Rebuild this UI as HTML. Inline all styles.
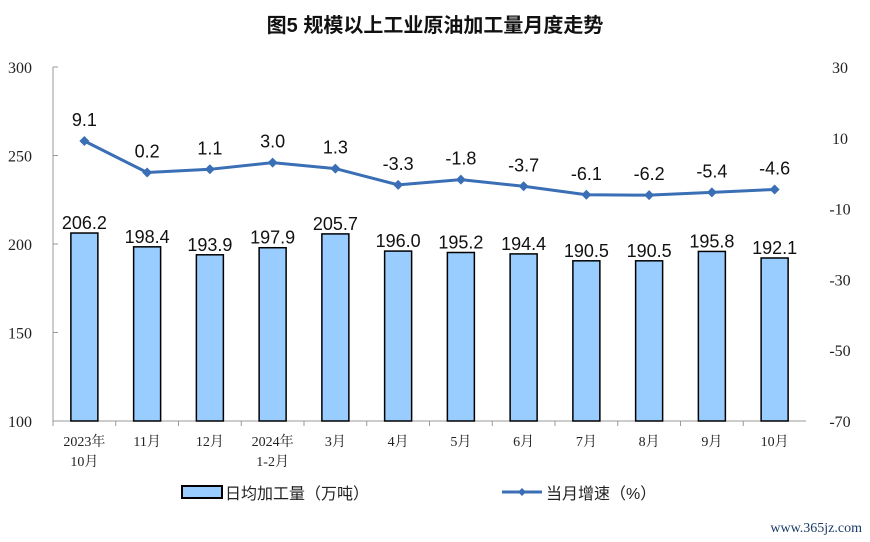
<!DOCTYPE html>
<html><head><meta charset="utf-8"><style>
body{margin:0;background:#fff}
svg{display:block;font-family:"Liberation Sans","Noto Sans CJK SC",sans-serif}
</style></head><body>
<svg width="870" height="542" viewBox="0 0 870 542">
<text x="435" y="32" text-anchor="middle" font-size="20" font-weight="bold" fill="#111">图5  规模以上工业原油加工量月度走势</text>
<g id="axes"></g><g id="bars"></g><g id="line"></g>
<g>
<rect x="182" y="486" width="40" height="12" fill="#99ccff" stroke="#000" stroke-width="2"/>
<text x="225" y="499" font-size="16" fill="#222">日均加工量（万吨）</text>
<line x1="502" y1="492" x2="542" y2="492" stroke="#3a6fb5" stroke-width="3"/>
<path d="M522 488 L526 492 L522 496 L518 492Z" fill="#3a6fb5"/>
<text x="546" y="499" font-size="16" fill="#222">当月增速（%）</text>
</g>
<text x="862" y="532" text-anchor="end" font-size="14" font-family="Liberation Serif,serif" fill="#1a3a6a">www.365jz.com</text>
</svg>
<script>
const categories=["2023年|10月","11月","12月","2024年|1-2月","3月","4月","5月","6月","7月","8月","9月","10月"];
const barValues=[206.2,198.4,193.9,197.9,205.7,196.0,195.2,194.4,190.5,190.5,195.8,192.1];
const growthValues=[9.1,0.2,1.1,3.0,1.3,-3.3,-1.8,-3.7,-6.1,-6.2,-5.4,-4.6];
const leftTicks=[100,150,200,250,300];
const rightTicks=[-70,-50,-30,-10,10,30];
const NS="http://www.w3.org/2000/svg";
const X0=53,X1=806,Y0=421,Y1=67;
const yL=v=>Y0-(v-100)/200*(Y0-Y1);
const yR=v=>Y0-(v+70)/100*(Y0-Y1);
const bw=(X1-X0)/categories.length;
const xc=i=>X0+bw*(i+0.5);
function mk(t,a,p,txt){const e=document.createElementNS(NS,t);for(const k in a)e.setAttribute(k,a[k]);if(txt!==undefined)e.textContent=txt;p.appendChild(e);return e;}
const ax=document.getElementById('axes'),bg=document.getElementById('bars'),lg=document.getElementById('line');
let e=mk('line',{x1:X0,y1:Y1,x2:X0,y2:Y0,stroke:'#999'},ax);

e=mk('line',{x1:X0,y1:Y0,x2:X1,y2:Y0,stroke:'#999'},ax);

leftTicks.forEach(v=>{mk('line',{x1:X0,y1:yL(v),x2:X0+5,y2:yL(v),stroke:'#999'},ax);
e=mk('text',{x:20,y:yL(v)+6,'font-size':16,'text-anchor':'middle',fill:'#222','font-family':'Liberation Serif,serif'},ax,v);
});
rightTicks.forEach(v=>{
e=mk('text',{x:840,y:yR(v)+6,'font-size':16,'text-anchor':'middle',fill:'#222','font-family':'Liberation Serif,serif'},ax,v);
});
categories.forEach((c,i)=>{mk('line',{x1:X0+bw*i,y1:Y0,x2:X0+bw*i,y2:Y0+5,stroke:'#999'},ax);
c.split('|').forEach((s,j)=>{e=mk('text',{x:xc(i),y:446+j*20,'font-size':14,'text-anchor':'middle',fill:'#222','font-family':'"Liberation Serif","Noto Serif CJK SC",serif'},ax,s);
});});
barValues.forEach((v,i)=>{e=mk('rect',{x:xc(i)-13.5,y:yL(v),width:27,height:Y0-yL(v),fill:'#99ccff',stroke:'#000','stroke-width':1.5},bg);

e=mk('text',{x:xc(i),y:yL(v)-4,'font-size':18,'text-anchor':'middle',fill:'#111'},bg,v.toFixed(1));
});
e=mk('polyline',{points:growthValues.map((v,i)=>xc(i)+','+yR(v)).join(' '),fill:'none',stroke:'#3a6fb5','stroke-width':3},lg);

growthValues.forEach((v,i)=>{const x=xc(i),y=yR(v);
e=mk('path',{d:`M${x} ${y-5}L${x+5} ${y}L${x} ${y+5}L${x-5} ${y}Z`,fill:'#3a6fb5'},lg);

e=mk('text',{x:x,y:y-15,'font-size':18,'text-anchor':'middle',fill:'#111'},lg,v.toFixed(1));
});
</script>
</body></html>
